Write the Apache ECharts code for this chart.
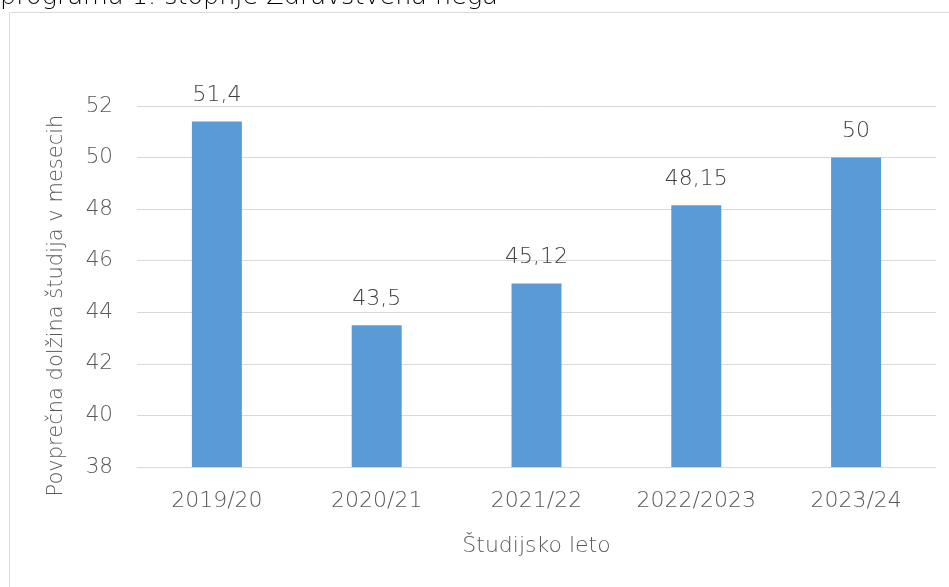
<!DOCTYPE html>
<html><head><meta charset="utf-8">
<script src="https://cdn.jsdelivr.net/npm/echarts@6/dist/echarts.min.js"></script>
<style>html,body{margin:0;padding:0;background:#fff}#c{width:949px;height:587px}</style>
</head><body><div id="c"></div>
<script>
const categories = ['2019/20', '2020/21', '2021/22', '2022/2023', '2023/24'];
const values = [51.4, 43.5, 45.12, 48.15, 50];
const titleText = 'programa 1. stopnje Zdravstvena nega';
const yAxisName = 'Povprečna dolžina študija v mesecih';
const xAxisName = 'Študijsko leto';
const FONT = '"DejaVu Sans", sans-serif';
const W = 200;
const chart = echarts.init(document.getElementById('c'), null, {renderer: 'canvas'});
chart.setOption({
  animation: false,
  backgroundColor: '#fff',
  graphic: [
    {type: 'rect', shape: {x: 9.5, y: 12.5, width: 1200, height: 1200}, style: {fill: 'none', stroke: '#d9d9d9', lineWidth: 1}, silent: true},
    {type: 'text', left: 0, top: -16, style: {text: titleText, fill: '#000', font: W + ' 25.5px ' + FONT}}
  ],
  grid: {left: 137, right: 13, top: 106, bottom: 120},
  xAxis: {
    type: 'category', data: categories,
    axisLine: {lineStyle: {color: '#d9d9d9', width: 1}},
    axisTick: {show: false},
    axisLabel: {color: '#595959', fontSize: 22, fontWeight: W, fontFamily: FONT, margin: 23},
    name: xAxisName, nameLocation: 'middle', nameGap: 68,
    nameTextStyle: {color: '#595959', fontSize: 22, fontWeight: W, fontFamily: FONT}
  },
  yAxis: {
    type: 'value', min: 38, max: 52, interval: 2,
    axisLine: {show: false}, axisTick: {show: false},
    splitLine: {lineStyle: {color: '#d9d9d9', width: 1}},
    axisLabel: {color: '#595959', fontSize: 21.5, fontWeight: W, fontFamily: FONT, margin: 24},
    name: yAxisName, nameLocation: 'middle', nameGap: 70,
    nameTextStyle: {color: '#595959', fontSize: 21, fontWeight: W, fontFamily: FONT, padding: [0, 38, 0, 0]}
  },
  series: [{
    type: 'bar', data: values, barWidth: 50,
    itemStyle: {color: '#5b9bd5'},
    label: {show: true, position: 'top', distance: 15, color: '#404040', fontSize: 22, fontWeight: W, fontFamily: FONT,
      formatter: p => String(p.value).replace('.', ',')}
  }]
});
</script></body></html>
